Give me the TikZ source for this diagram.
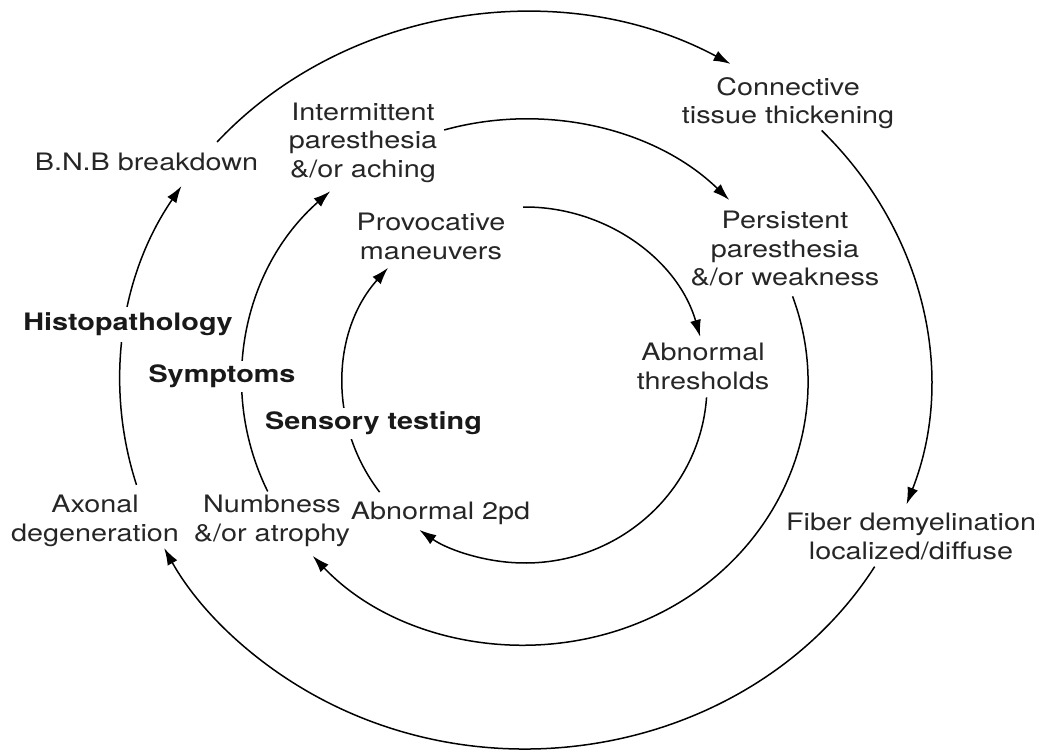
\documentclass[tikz,border=0pt]{standalone}
\usepackage{fontspec}
\setmainfont[FakeStretch=1.2]{TeX Gyre Heros}
\usetikzlibrary{arrows.meta}
\begin{document}
\begin{tikzpicture}[x=1pt,y=1pt,
  ring/.style={line width=1.5pt, -{Latex[length=17pt,width=11pt]}},
  lbl/.style={font=\fontsize{24}{28.5}\selectfont, text=black!85, align=center, inner sep=0pt},
  head/.style={font=\fontsize{24}{28.5}\selectfont\bfseries, text=black!90, fill=white, inner xsep=2pt, inner ysep=4pt}]
\useasboundingbox (0,0) rectangle (1041,755);
\fill[white] (0,0) rectangle (1041,755);
% ring centres
\coordinate (O1) at (525,374);
\coordinate (O2) at (525,373);
\coordinate (O3) at (525,370);
% outer ring (histopathology)
\coordinate (o1a) at ([shift={(139.5:405pt and 368pt)}]O1);
\coordinate (o1b) at ([shift={(42.9:405pt and 368pt)}]O1);
\coordinate (o1c) at ([shift={(-30.3:405pt and 368pt)}]O1);
\coordinate (o1d) at ([shift={(-163.6:405pt and 368pt)}]O1);
\draw[ring] (o1a) arc[start angle=139.5, end angle=59.5, x radius=405pt, y radius=368pt];
\draw[ring] (o1b) arc[start angle=42.9, end angle=-19.6, x radius=405pt, y radius=368pt];
\draw[ring] (o1c) arc[start angle=-30.3, end angle=-153, x radius=405pt, y radius=368pt];
\draw[ring] (o1d) arc[start angle=-163.6, end angle=-212, x radius=405pt, y radius=368pt];
% middle ring (symptoms)
\coordinate (o2a) at ([shift={(106.6:283pt and 263pt)}]O2);
\coordinate (o2b) at ([shift={(19:283pt and 263pt)}]O2);
\coordinate (o2c) at ([shift={(-155.4:283pt and 263pt)}]O2);
\draw[ring] (o2a) arc[start angle=106.6, end angle=43.8, x radius=283pt, y radius=263pt];
\draw[ring] (o2b) arc[start angle=19, end angle=-138.6, x radius=283pt, y radius=263pt];
\draw[ring] (o2c) arc[start angle=-155.4, end angle=-226.5, x radius=283pt, y radius=263pt];
% inner ring (sensory testing)
\coordinate (o3a) at ([shift={(90.6:182pt and 178pt)}]O3);
\coordinate (o3b) at ([shift={(-4:182pt and 178pt)}]O3);
\coordinate (o3c) at ([shift={(-143:182pt and 178pt)}]O3);
\draw[ring] (o3a) arc[start angle=90.6, end angle=15.7, x radius=182pt, y radius=178pt];
\draw[ring] (o3b) arc[start angle=-4, end angle=-125.5, x radius=182pt, y radius=178pt];
\draw[ring] (o3c) arc[start angle=-143, end angle=-221.2, x radius=182pt, y radius=178pt];
% labels
\node[lbl, anchor=base] (bnb) at (146.5,584) {B.N.B breakdown};
\node[lbl] (int) at (363,612.5) {Intermittent\\paresthesia\\\&/or aching};
\node[lbl] (prov) at (431,518.5) {Provocative\\maneuvers};
\node[lbl] (conn) at (788,652) {Connective\\tissue thickening};
\node[lbl] (pers) at (785,506) {Persistent\\paresthesia\\\&/or weakness};
\node[lbl] (thr) at (703,388.5) {Abnormal\\thresholds};
\node[lbl] (axon) at (95,234) {Axonal\\degeneration};
\node[lbl] (numb) at (272,234) {Numbness\\\&/or atrophy};
\node[lbl, anchor=base] (tpd) at (440.5,235) {Abnormal 2pd};
\node[lbl] (fib) at (911,218.5) {Fiber demyelination\\localized/diffuse};
\node[head, anchor=base, inner ysep=6pt] (histo) at (128,424) {Histopathology};
\node[head, anchor=base] (symp) at (222,372) {Symptoms};
\node[head, anchor=base] (sens) at (373.5,325) {Sensory testing};
\end{tikzpicture}
\end{document}
